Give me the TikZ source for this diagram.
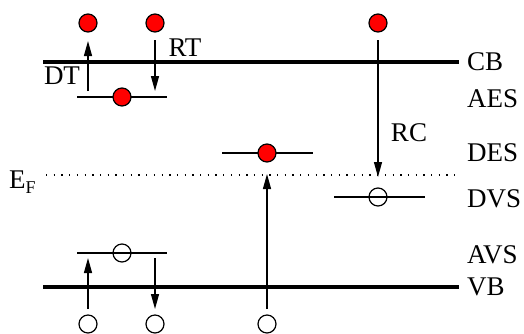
\documentclass[tikz,border=0pt]{standalone}
\usepackage{fontspec}
\setmainfont{Liberation Serif}
\usetikzlibrary{arrows.meta}
\begin{document}
\begin{tikzpicture}[x=1pt,y=-1pt,
  band/.style={line width=3.6pt},
  level/.style={line width=1.3pt},
  fermi/.style={line width=1.3pt,dash pattern=on 1.3pt off 6.4pt},
  trans/.style={line width=1.3pt,-{Triangle[length=15pt,width=8pt]}},
  electron/.style={circle,draw,line width=1.2pt,fill=red,minimum size=18pt,inner sep=0pt},
  hole/.style={circle,draw,line width=1.2pt,minimum size=18pt,inner sep=0pt},
  lbl/.style={font=\fontsize{27}{27}\selectfont,inner sep=0pt}]
\useasboundingbox (0,0) rectangle (524,333);

% conduction and valence bands
\coordinate (cbL) at (43,62);  \coordinate (cbR) at (459,62);
\coordinate (vbL) at (43,287); \coordinate (vbR) at (459,287);
\draw[band] (cbL) -- (cbR);
\draw[band] (vbL) -- (vbR);

% Fermi level
\coordinate (efL) at (46,175); \coordinate (efR) at (459,175);
\draw[fermi] (efL) -- (efR);

% localized levels
\coordinate (aesL) at (77,97);  \coordinate (aesR) at (167,97);
\coordinate (desL) at (222,153); \coordinate (desR) at (313,153);
\coordinate (dvsL) at (334,197); \coordinate (dvsR) at (425,197);
\coordinate (avsL) at (77,253); \coordinate (avsR) at (167,253);
\draw[level] (aesL) -- (aesR);
\draw[level] (desL) -- (desR);
\draw[level] (dvsL) -- (dvsR);
\draw[level] (avsL) -- (avsR);

% carriers
\node[electron] (e1) at (88,23) {};
\node[electron] (e2) at (155,23) {};
\node[electron] (e3) at (378,23) {};
\node[electron] (eA) at (122,97) {};
\node[electron] (eD) at (267,153) {};
\node[hole] (hV) at (378,197) {};
\node[hole] (hA) at (122,253) {};
\node[hole] (h1) at (88,324) {};
\node[hole] (h2) at (155,324) {};
\node[hole] (h3) at (267,324) {};

% transitions
\coordinate (dtS) at (88,91);  \coordinate (dtE) at (88,41);
\coordinate (rtS) at (155,40); \coordinate (rtE) at (155,91);
\coordinate (rcS) at (378,40); \coordinate (rcE) at (378,177);
\coordinate (avS) at (88,309); \coordinate (avE) at (88,258);
\coordinate (avdS) at (155,258); \coordinate (avdE) at (155,309);
\coordinate (exS) at (267,309); \coordinate (exE) at (267,174);
\draw[trans] (dtS) -- (dtE);
\draw[trans] (rtS) -- (rtE);
\draw[trans] (rcS) -- (rcE);
\draw[trans] (avS) -- (avE);
\draw[trans] (avdS) -- (avdE);
\draw[trans] (exS) -- (exE);

% transition labels
\node[lbl] (dt) at (62,76) {DT};
\node[lbl] (rt) at (185,48) {RT};
\node[lbl] (rc) at (409,133) {RC};

% level labels
\node[lbl,anchor=west] (cb) at (467,62) {CB};
\node[lbl,anchor=west] (aes) at (467,99) {AES};
\node[lbl,anchor=west] (des) at (467,153) {DES};
\node[lbl,anchor=west] (dvs) at (467,199) {DVS};
\node[lbl,anchor=west] (avs) at (467,255) {AVS};
\node[lbl,anchor=west] (vb) at (467,287) {VB};
\node[lbl,anchor=base west] (ef) at (9,188) {E\raisebox{-5pt}{\fontsize{18}{18}\selectfont F}};
\end{tikzpicture}
\end{document}
